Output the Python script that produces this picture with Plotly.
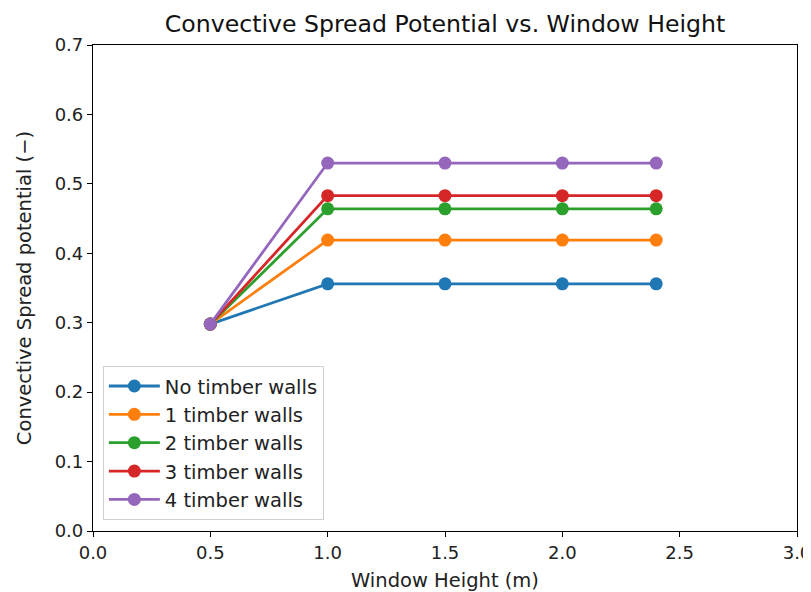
import plotly.graph_objects as go

window_height = [0.5, 1.0, 1.5, 2.0, 2.4]
series_names = ["No timber walls", "1 timber walls", "2 timber walls", "3 timber walls", "4 timber walls"]
no_walls = [0.298, 0.356, 0.356, 0.356, 0.356]
one_wall = [0.298, 0.419, 0.419, 0.419, 0.419]
two_walls = [0.298, 0.464, 0.464, 0.464, 0.464]
three_walls = [0.298, 0.483, 0.483, 0.483, 0.483]
four_walls = [0.298, 0.530, 0.530, 0.530, 0.530]
colors = ["#1f77b4", "#ff7f0e", "#2ca02c", "#d62728", "#9467bd"]
x_ticks = [0.0, 0.5, 1.0, 1.5, 2.0, 2.5, 3.0]
y_ticks = [0.0, 0.1, 0.2, 0.3, 0.4, 0.5, 0.6, 0.7]

fig = go.Figure()
for name, vals, c in zip(series_names, [no_walls, one_wall, two_walls, three_walls, four_walls], colors):
    fig.add_trace(go.Scatter(x=window_height, y=vals, mode="lines+markers", name=name,
                             line=dict(color=c, width=2.8), marker=dict(color=c, size=13)))

font = "DejaVu Sans"
W, H = 803, 584
fig.update_layout(
    width=W, height=H,
    margin=dict(l=85, r=14, t=37, b=61),
    paper_bgcolor="white", plot_bgcolor="white",
    font=dict(family=font, size=18, color="#222"),
    title=dict(text="Convective Spread Potential vs. Window Height", x=437 / W, xanchor="center",
               y=1 - 16 / H, yanchor="middle", font=dict(size=23.6, family=font, color="#111")),
    showlegend=True,
    legend=dict(x=0.014, y=0.023, xanchor="left", yanchor="bottom", bgcolor="rgba(255,255,255,0.8)",
                bordercolor="#d0d0d0", borderwidth=1, font=dict(size=19.5, family=font), tracegroupgap=0,
                itemwidth=51),
)
fig.update_xaxes(range=[0, 3], tickvals=x_ticks, ticktext=[f"{v:.1f}" for v in x_ticks],
                 showgrid=False, zeroline=False, showline=True, linecolor="black", linewidth=1.2,
                 mirror=True, ticks="outside", ticklen=5, tickcolor="black", tickfont=dict(size=18),
                 ticklabeloverflow="allow", automargin=False,
                 title=dict(text="Window Height (m)", standoff=11, font=dict(size=19.5)))
fig.update_yaxes(range=[0, 0.7], tickvals=y_ticks, ticktext=[f"{v:.1f}" for v in y_ticks],
                 showgrid=False, zeroline=False, showline=True, linecolor="black", linewidth=1.2,
                 mirror=True, ticks="outside", ticklen=5, tickcolor="black", tickfont=dict(size=18),
                 automargin=False,
                 title=dict(text="Convective Spread potential (\u2212)", standoff=17, font=dict(size=19.5)))
fig.write_html("out.html")
